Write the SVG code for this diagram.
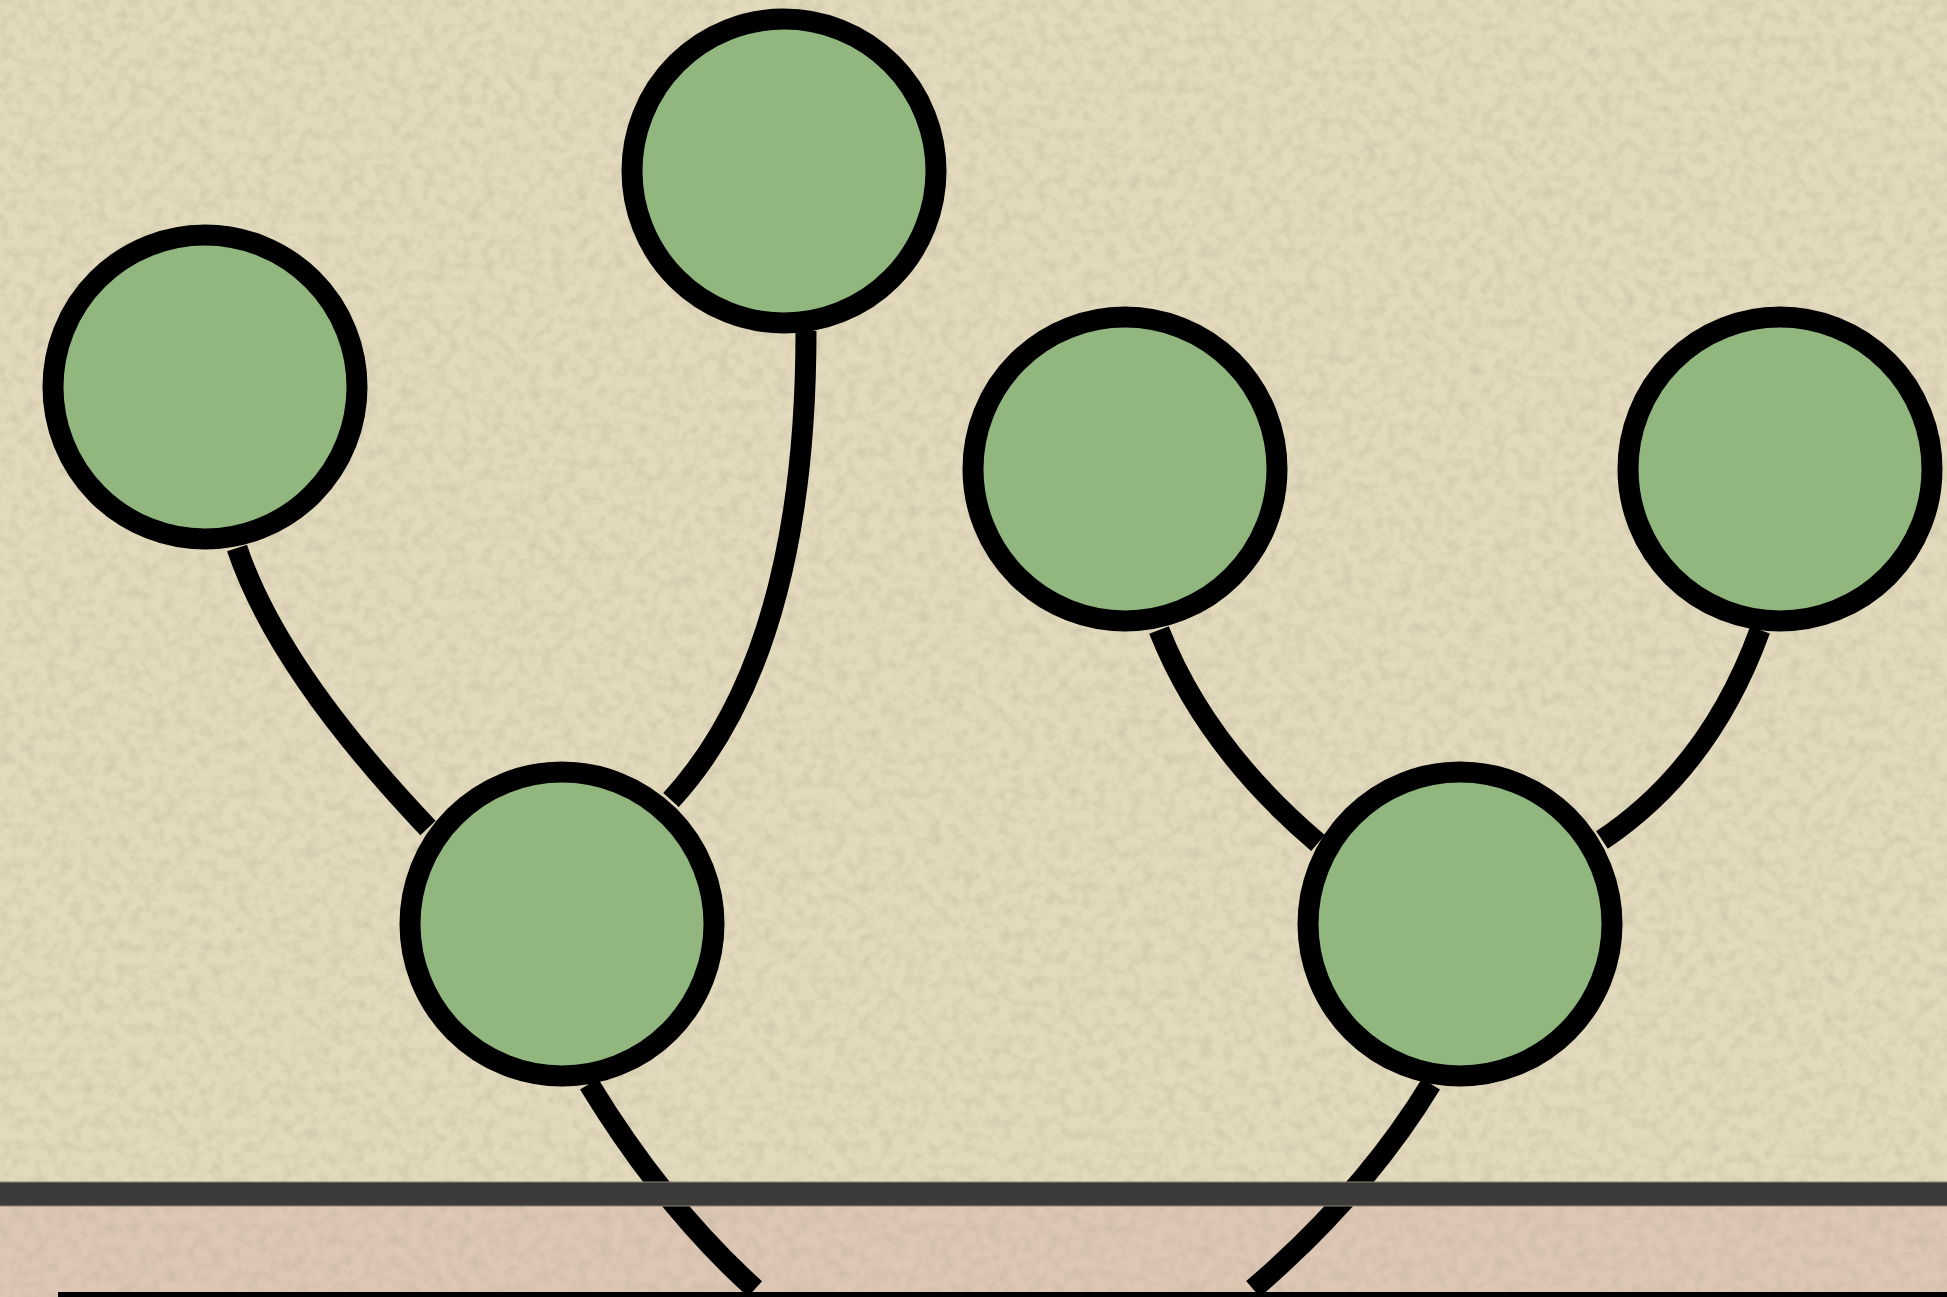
<svg xmlns="http://www.w3.org/2000/svg" width="1947" height="1297" viewBox="0 0 1947 1297">
  <defs>
    <style>
      .node { fill: #91b67e; stroke: #000; stroke-width: 21; }
      .edge { fill: none; stroke: #000; stroke-width: 21; stroke-linecap: butt; }
    </style>
    <!-- paper grain: fine mottled flecks over the flat ground -->
    <filter id="grain" x="0" y="0" width="1947" height="1297" filterUnits="userSpaceOnUse">
      <feTurbulence type="fractalNoise" baseFrequency="0.085" numOctaves="4" seed="7" result="n"/>
      <feColorMatrix in="n" type="matrix"
        values="0 0 0 0 0.42
                0 0 0 0 0.39
                0 0 0 0 0.30
                2.2 0 0 0 -0.9"/>
    </filter>
  </defs>

  <!-- ground: beige upper field and pink lower strip -->
  <rect x="0" y="0" width="1947" height="1297" fill="#e3d9bc"/>
  <rect x="0" y="1206" width="1947" height="91" fill="#dec7b4"/>
  <rect x="0" y="0" width="1947" height="1297" filter="url(#grain)" opacity="0.3"/>

  <!-- connectors -->
  <g id="connectors">
    <path class="edge" d="M237,548 Q278,670 428,828"/>
    <path class="edge" d="M806,331 Q806,653 671,800"/>
    <path class="edge" d="M589,1084 Q664,1207 755,1289"/>
    <path class="edge" d="M1159,630 Q1205,747 1318,843"/>
    <path class="edge" d="M1760,630 Q1710,768 1602,840"/>
    <path class="edge" d="M1431,1084 Q1364,1194 1253,1289"/>
  </g>

  <!-- dark band and bottom rule -->
  <g id="band">
    <rect x="0" y="1182" width="1947" height="24" fill="#3c3b39"/>
    <rect x="0" y="1181.5" width="1947" height="1" fill="#8c8574"/>
    <rect x="0" y="1205.5" width="1947" height="1" fill="#8c8574"/>
    <rect x="58" y="1292" width="1889" height="5" fill="#000"/>
  </g>

  <!-- nodes -->
  <g id="node-top-left"><circle class="node" cx="205" cy="387" r="152"/></g>
  <g id="node-top-center"><circle class="node" cx="784" cy="171" r="152"/></g>
  <g id="node-mid"><circle class="node" cx="1125" cy="469" r="152"/></g>
  <g id="node-right"><circle class="node" cx="1780" cy="469" r="152"/></g>
  <g id="node-bottom-left"><circle class="node" cx="562" cy="924" r="152"/></g>
  <g id="node-bottom-right"><circle class="node" cx="1460" cy="924" r="152"/></g>
</svg>
